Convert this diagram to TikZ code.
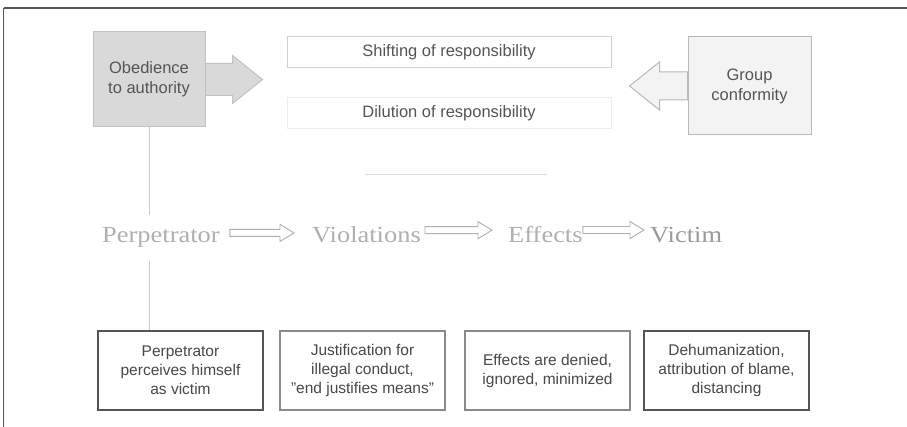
\documentclass[tikz,border=0pt]{standalone}
\usepackage{fontspec}
\setmainfont{Liberation Sans}
\newfontfamily\rowserif[FakeStretch=1.15]{Liberation Serif}
\usetikzlibrary{calc}
\definecolor{framecol}{HTML}{555555}
\definecolor{obedfill}{HTML}{D9D9D9}
\definecolor{obeddraw}{HTML}{C2C2C2}
\definecolor{groupfill}{HTML}{F3F3F3}
\definecolor{groupdraw}{HTML}{B8B8B8}
\definecolor{boxtext}{HTML}{555555}
\definecolor{rowgray}{HTML}{B0B0B0}
\definecolor{victimgray}{HTML}{9A9A9A}
\definecolor{vlinecol}{HTML}{CCCCCC}
\definecolor{darkbox}{HTML}{555555}
\definecolor{midbox}{HTML}{8A8A8A}
\newcommand\fatarrow[6]{%
  \draw[#6] let \p1=(#1), \p2=(#2), \n1={sign(\x2-\x1)}, \n2={\x2-(\n1)*#5} in
    (\x1,{\y1+#3}) -- (\n2,{\y1+#3}) -- (\n2,{\y1+#4}) -- (\x2,\y1)
    -- (\n2,{\y1-#4}) -- (\n2,{\y1-#3}) -- (\x1,{\y1-#3}) -- cycle;}
\tikzset{
  sansbox/.style={font=\fontsize{16.5}{20}\selectfont, text=boxtext, align=center, inner sep=0pt},
  obedbox/.style={sansbox, fill=obedfill, draw=obeddraw, line width=1pt, minimum width=112pt, minimum height=95pt},
  groupbox/.style={sansbox, fill=groupfill, draw=groupdraw, line width=1pt, minimum width=123pt, minimum height=98pt},
  midbar/.style={sansbox, minimum width=324pt, minimum height=31pt, line width=1pt},
  rowtext/.style={font=\rowserif\fontsize{23}{26}\selectfont, text=rowgray, inner xsep=0pt, inner ysep=13pt, anchor=base west},
  lowbox/.style={sansbox, font=\fontsize{15.5}{19}\selectfont, text=boxtext!85!black, minimum width=165pt, minimum height=79pt},
  vline/.style={draw=vlinecol, line width=1pt},
  smallarrow/.style={draw=rowgray, line width=0.9pt, fill=white},
}
\begin{document}
\begin{tikzpicture}[x=1pt,y=-1pt]
\useasboundingbox (0,0) rectangle (907,427);
\fill[white] (0,0) rectangle (907,427);
% frame
\coordinate (fa) at (3.5,8.5);
\coordinate (fb) at (907,8.5);
\coordinate (fc) at (3.5,427);
\draw[framecol, line width=2pt] (fa) -- (fb);
\draw[framecol, line width=1.5pt] (fa) -- (fc);

% top row
\node[obedbox] (obed) at (149,79.5) {Obedience\\to authority};
\node[groupbox] (group) at (749.5,86) {Group\\conformity};
\node[midbar, draw=black!18] (shift) at (449,52) {Shifting of responsibility};
\node[midbar, draw=black!7] (dil) at (449,113.5) {Dilution of responsibility};
\fatarrow{obed.east}{$(obed.east)+(57,0)$}{16pt}{24pt}{30pt}{fill=obedfill, draw=obeddraw, line width=1pt}
\fatarrow{group.west}{$(group.west)+(-58,0)$}{14pt}{24pt}{30pt}{fill=groupfill, draw=groupdraw, line width=1pt}

% faint line
\coordinate (fl1) at (365,175);
\coordinate (fl2) at (547,175);
\draw[black!13, line width=1pt] (fl1) -- (fl2);

% process row
\node[rowtext] (perp) at (102,243) {Perpetrator};
\node[rowtext] (viol) at (312,243) {Violations};
\node[rowtext] (eff) at (508,243) {Effects};
\node[rowtext, text=victimgray] (vict) at (650,243) {Victim};
\fatarrow{$(perp.east)+(10,-5)$}{$(viol.west)+(-18,-5)$}{3.5pt}{8.5pt}{14pt}{smallarrow}
\fatarrow{$(viol.east)+(4,-5)$}{$(eff.west)+(-16,-5)$}{3.5pt}{8.5pt}{14pt}{smallarrow}
\fatarrow{$(eff.east)+(0,-5)$}{$(vict.west)+(-6,-5)$}{3.5pt}{8.5pt}{14pt}{smallarrow}

% bottom boxes
\node[lowbox, draw=darkbox, line width=1.6pt] (b1) at (180.5,370.5) {Perpetrator\\perceives himself\\as victim};
\node[lowbox, draw=midbox, line width=1.2pt] (b2) at (362.5,370.5) {Justification for\\illegal conduct,\\\symbol{34}end justifies means\symbol{34}};
\node[lowbox, draw=midbox, line width=1.2pt] (b3) at (547.5,370.5) {Effects are denied,\\ignored, minimized};
\node[lowbox, draw=darkbox, line width=1.6pt] (b4) at (726.5,370.5) {Dehumanization,\\attribution of blame,\\distancing};

% vertical line
\draw[vline] (obed.south) -- (obed.south |- perp.north);
\draw[vline] (obed.south |- perp.south) -- (obed.south |- b1.north);
\end{tikzpicture}
\end{document}
